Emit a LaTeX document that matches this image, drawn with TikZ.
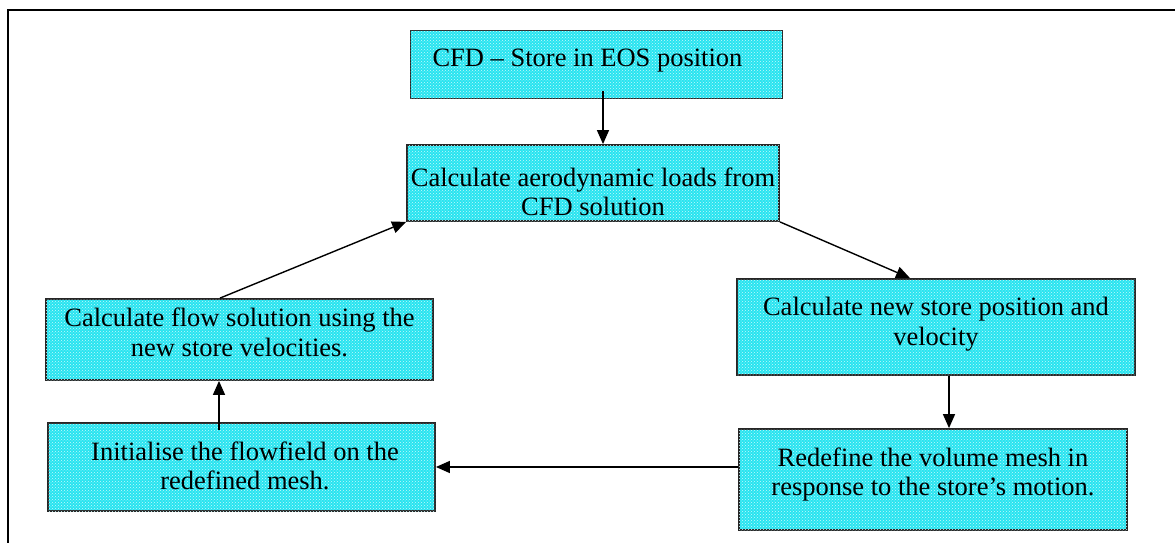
\documentclass[tikz,border=0pt]{standalone}
\usepackage{fontspec}
\setmainfont{Liberation Serif}
\usetikzlibrary{arrows.meta,patterns}
\definecolor{boxcyan}{RGB}{40,228,240}
\tikzset{
  stepbox/.style={draw=black!85, line width=1.8pt, fill=boxcyan,
    postaction={pattern=crosshatch dots, pattern color=white!75!boxcyan},
    inner sep=0pt},
  boxtext/.style={align=center, inner sep=0pt, font=\fontsize{26.5}{29.5}\selectfont},
  conn/.style={line width=1.4pt, -{Triangle[length=14pt,width=12pt]}},
  frameline/.style={line width=1.6pt}
}
\begin{document}
\begin{tikzpicture}[x=1pt,y=-1pt]
\useasboundingbox (0,0) rectangle (1175,543);
\draw[frameline] (8,543) -- (8,10) -- (1175,10);

\node[stepbox, minimum width=372pt, minimum height=68pt] (eos) at (596.5,64.5) {};
\node[stepbox, minimum width=372pt, minimum height=76pt] (loads) at (593,183) {};
\node[stepbox, minimum width=398pt, minimum height=96pt] (newpos) at (936,327) {};
\node[stepbox, minimum width=388pt, minimum height=101pt] (redef) at (933,479.5) {};
\node[stepbox, minimum width=387pt, minimum height=88pt] (init) at (241.5,467) {};
\node[stepbox, minimum width=387pt, minimum height=81pt] (flow) at (239.5,339.5) {};

\node[boxtext] (teos) at ([shift={(-9,-4)}]eos.center) {CFD -- Store in EOS position};
\node[boxtext] (tloads) at ([shift={(0,9)}]loads.center) {Calculate aerodynamic loads from\\CFD solution};
\node[boxtext] (tnewpos) at ([shift={(0,-3)}]newpos.center) {Calculate new store position and\\velocity};
\node[boxtext] (tredef) at ([shift={(0,-5)}]redef.center) {Redefine the volume mesh in\\response to the store’s motion.};
\node[boxtext] (tinit) at ([shift={(3.5,-1)}]init.center) {Initialise the flowfield on the\\redefined mesh.};
\node[boxtext] (tflow) at ([shift={(0,-7)}]flow.center) {Calculate flow solution using the\\new store velocities.};

\coordinate (a1) at ([xshift=6.5pt,yshift=8pt]eos.south);
\draw[conn] (a1) -- (a1 |- loads.north);
\draw[conn] (loads.south east) -- ([xshift=-26pt]newpos.north);
\draw[conn] ([xshift=13pt]newpos.south) -- ([xshift=13pt]newpos.south |- redef.north);
\draw[conn] (redef.west |- init.east) -- (init.east);
\coordinate (a2) at ([xshift=-22.5pt,yshift=-8pt]init.north);
\draw[conn] (a2) -- (a2 |- flow.south);
\draw[conn] ([xshift=-19.5pt]flow.north) -- (loads.south west);
\end{tikzpicture}
\end{document}
